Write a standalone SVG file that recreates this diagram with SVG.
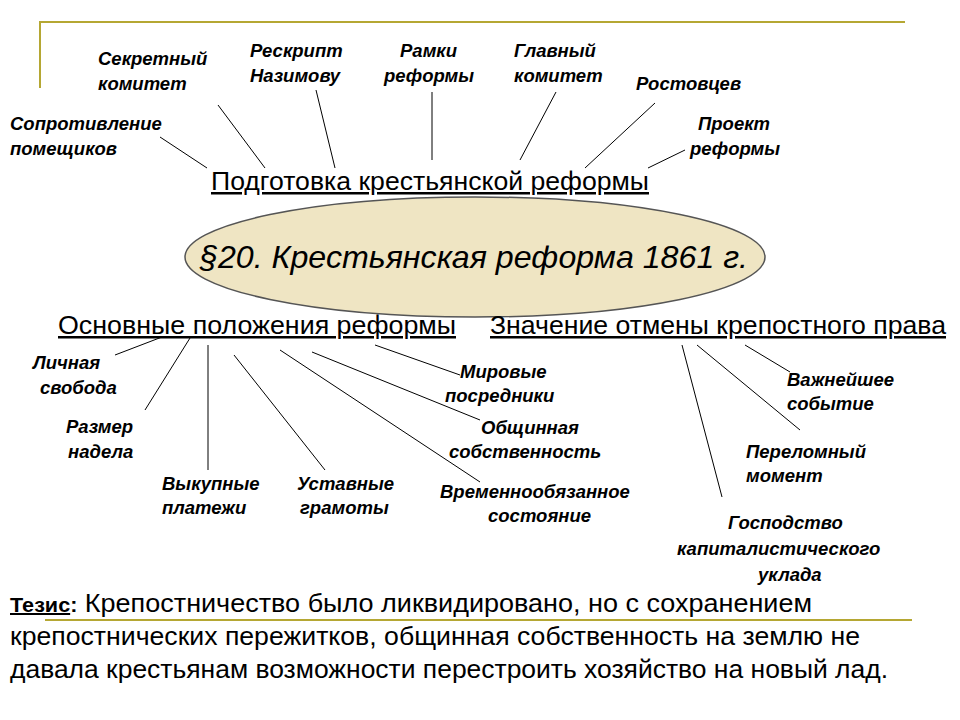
<svg xmlns="http://www.w3.org/2000/svg" width="960" height="720" viewBox="0 0 960 720">
<style>
.l{font-family:"Liberation Sans",Arial,sans-serif;font-weight:bold;font-style:italic;font-size:18.5px;fill:#000}
.h{font-family:"Liberation Sans",Arial,sans-serif;font-size:25px;fill:#000}
.t{font-family:"Liberation Sans",Arial,sans-serif;font-size:25px;fill:#000}
.c line{stroke:#000;stroke-width:1}
.o{stroke:#b5a733;stroke-width:2;fill:none}
</style>
<rect width="960" height="720" fill="#fff"/>
<path class="o" d="M40,88 V22 H905"/>
<line class="o" x1="45" y1="620" x2="912" y2="620"/>
<g id="center"><ellipse cx="475" cy="257" rx="290" ry="60" fill="#efe5c3" stroke="#555" stroke-width="1.5"/>
<text x="200" y="268" font-family="Liberation Sans,Arial,sans-serif" font-style="italic" font-size="32" textLength="548" lengthAdjust="spacingAndGlyphs">§20. Крестьянская реформа 1861 г.</text></g>
<g id="heads">
<text class="h" x="211" y="190" textLength="438" lengthAdjust="spacingAndGlyphs" text-decoration="underline">Подготовка крестьянской реформы</text>
<text class="h" x="58" y="334" textLength="398" lengthAdjust="spacingAndGlyphs" text-decoration="underline">Основные положения реформы</text>
<text class="h" x="490" y="334" textLength="456" lengthAdjust="spacingAndGlyphs" text-decoration="underline">Значение отмены крепостного права</text>
</g>
<g class="c" id="connectors">
<line x1="160" y1="137" x2="207" y2="168"/><line x1="218" y1="105" x2="265" y2="168"/>
<line x1="316" y1="90" x2="335" y2="168"/><line x1="432" y1="92" x2="432" y2="160"/>
<line x1="556" y1="92" x2="520" y2="160"/><line x1="655" y1="103" x2="585" y2="168"/>
<line x1="685" y1="150" x2="648" y2="168"/>
<line x1="162" y1="337" x2="115" y2="355"/><line x1="190" y1="338" x2="145" y2="410"/>
<line x1="208" y1="345" x2="208" y2="470"/><line x1="234" y1="355" x2="325" y2="470"/>
<line x1="280" y1="350" x2="480" y2="482"/><line x1="312" y1="352" x2="480" y2="420"/>
<line x1="375" y1="345" x2="460" y2="375"/>
<line x1="682" y1="345" x2="722" y2="497"/><line x1="697" y1="345" x2="800" y2="430"/>
<line x1="745" y1="345" x2="790" y2="372"/>
</g>
<g id="labels" class="l">
<text x="10" y="130">Сопротивление</text><text x="10" y="155">помещиков</text>
<text x="98" y="65">Секретный</text><text x="98" y="90">комитет</text>
<text x="250" y="57">Рескрипт</text><text x="250" y="82">Назимову</text>
<text x="400" y="57">Рамки</text><text x="384" y="82">реформы</text>
<text x="514" y="57">Главный</text><text x="514" y="82">комитет</text>
<text x="636" y="90">Ростовцев</text>
<text x="698" y="130">Проект</text><text x="690" y="155">реформы</text>
<text x="33" y="369">Личная</text><text x="40" y="394">свобода</text>
<text x="66" y="433">Размер</text><text x="68" y="458">надела</text>
<text x="162" y="490">Выкупные</text><text x="162" y="514">платежи</text>
<text x="297" y="490">Уставные</text><text x="300" y="514">грамоты</text>
<text x="460" y="378">Мировые</text><text x="445" y="402">посредники</text>
<text x="481" y="434">Общинная</text><text x="449" y="458">собственность</text>
<text x="440" y="498">Временнообязанное</text><text x="488" y="522">состояние</text>
<text x="787" y="386">Важнейшее</text><text x="787" y="410">событие</text>
<text x="746" y="458">Переломный</text><text x="746" y="482">момент</text>
<text x="728" y="529">Господство</text><text x="677" y="555">капиталистического</text><text x="758" y="581">уклада</text>
</g>
<g id="thesis">
<text class="t" x="10" y="612" textLength="802" lengthAdjust="spacingAndGlyphs"><tspan font-weight="bold" font-size="20" text-decoration="underline">Тезис</tspan><tspan font-weight="bold" font-size="20">:</tspan> Крепостничество было ликвидировано, но с сохранением</text>
<text class="t" x="10" y="645" textLength="850" lengthAdjust="spacingAndGlyphs">крепостнических пережитков, общинная собственность на землю не</text>
<text class="t" x="10" y="678" textLength="878" lengthAdjust="spacingAndGlyphs">давала крестьянам возможности перестроить хозяйство на новый лад.</text>
</g>
</svg>
